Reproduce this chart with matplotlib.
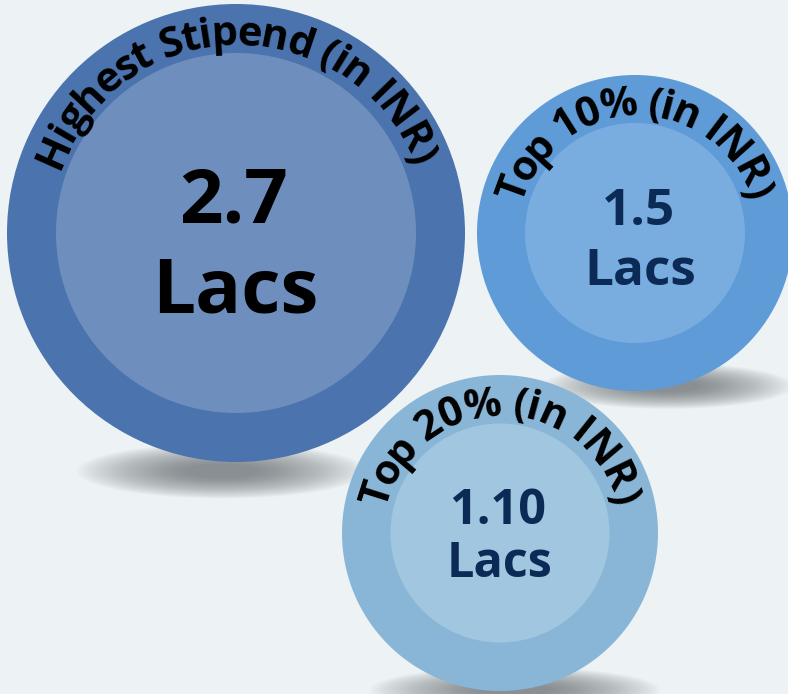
import numpy as np
import matplotlib.pyplot as plt
from matplotlib.patches import Circle, Ellipse
from matplotlib.font_manager import FontProperties
from matplotlib.textpath import TextToPath

# data
labels = ["Highest Stipend (in INR)", "Top 10% (in INR)", "Top 20% (in INR)"]
values = ["2.7", "1.5", "1.10"]
units = ["Lacs", "Lacs", "Lacs"]

# layout (pixels, y down)
centers = [(236, 233), (635, 233), (500, 533)]
outer_r = [229, 158, 158]
inner_r = [180, 110, 109.5]
arc_r = [188, 117, 117]
arc_span = [(156, 22.4), (160, 18.5), (162.5, 16)]
value_size = [55, 37, 35]
value_base = [(234, 222, 235, 312), (639, 225, 640, 285), (498, 524, 500, 577)]
shadows = [(222, 471, 290, 55), (668, 386, 250, 46), (515, 690, 290, 46)]

outer_colors = ["#4b73ad", "#5f9bd7", "#89b6d7"]
inner_colors = ["#6e8fbd", "#7aaddf", "#a1c6df"]
value_colors = ["#000000", "#0b2a56", "#0b2a56"]
bg = "#edf2f5"

ttp = TextToPath()


def advance(ch, fp):
    w1 = ttp.get_text_width_height_descent("x" + ch + "x", fp, ismath=False)[0]
    w0 = ttp.get_text_width_height_descent("xx", fp, ismath=False)[0]
    return (w1 - w0) * 100 / 72


def arc_text(ax, text, cx, cy, r, a0, a1, fp):
    w = [advance(c, fp) for c in text]
    n = len(text)
    base = sum((w[i] + w[i + 1]) / 2 for i in range(n - 1))
    track = (np.radians(a0 - a1) * r - base) / (n - 1)
    s = 0
    for i, ch in enumerate(text):
        th = np.radians(a0) - s / r
        ax.text(cx + r * np.cos(th), cy - r * np.sin(th), ch,
                rotation=np.degrees(th) - 90, rotation_mode="anchor",
                ha="center", va="baseline", fontproperties=fp,
                color="black", zorder=5)
        if i < n - 1:
            s += (w[i] + w[i + 1]) / 2 + track


fig = plt.figure(figsize=(7.88, 6.94), dpi=100, facecolor=bg)
ax = fig.add_axes([0, 0, 1, 1])
ax.set_xlim(0, 788)
ax.set_ylim(694, 0)
ax.set_aspect("equal")
ax.axis("off")

# soft shadows
for sx, sy, sw, sh in shadows:
    for k in np.linspace(1, 0.25, 30):
        ax.add_patch(Ellipse((sx, sy), sw * k, sh * k, color="#5a5f64",
                             alpha=0.032, lw=0, zorder=1))

arc_fp = FontProperties(family="Open Sans", weight="bold", size=30)

for i in range(3):
    cx, cy = centers[i]
    ax.add_patch(Circle((cx, cy), outer_r[i], color=outer_colors[i], lw=0, zorder=2))
    ax.add_patch(Circle((cx, cy), inner_r[i], color=inner_colors[i], lw=0, zorder=3))
    arc_text(ax, labels[i], cx, cy, arc_r[i], arc_span[i][0], arc_span[i][1], arc_fp)
    vx, vy, ux, uy = value_base[i]
    ax.text(vx, vy, values[i], ha="center", va="baseline", fontsize=value_size[i],
            fontfamily="Open Sans", fontweight="bold", color=value_colors[i], zorder=5)
    ax.text(ux, uy, units[i], ha="center", va="baseline", fontsize=value_size[i],
            fontfamily="Open Sans", fontweight="bold", color=value_colors[i], zorder=5)

fig.savefig("out.png", dpi=100, facecolor=bg)
